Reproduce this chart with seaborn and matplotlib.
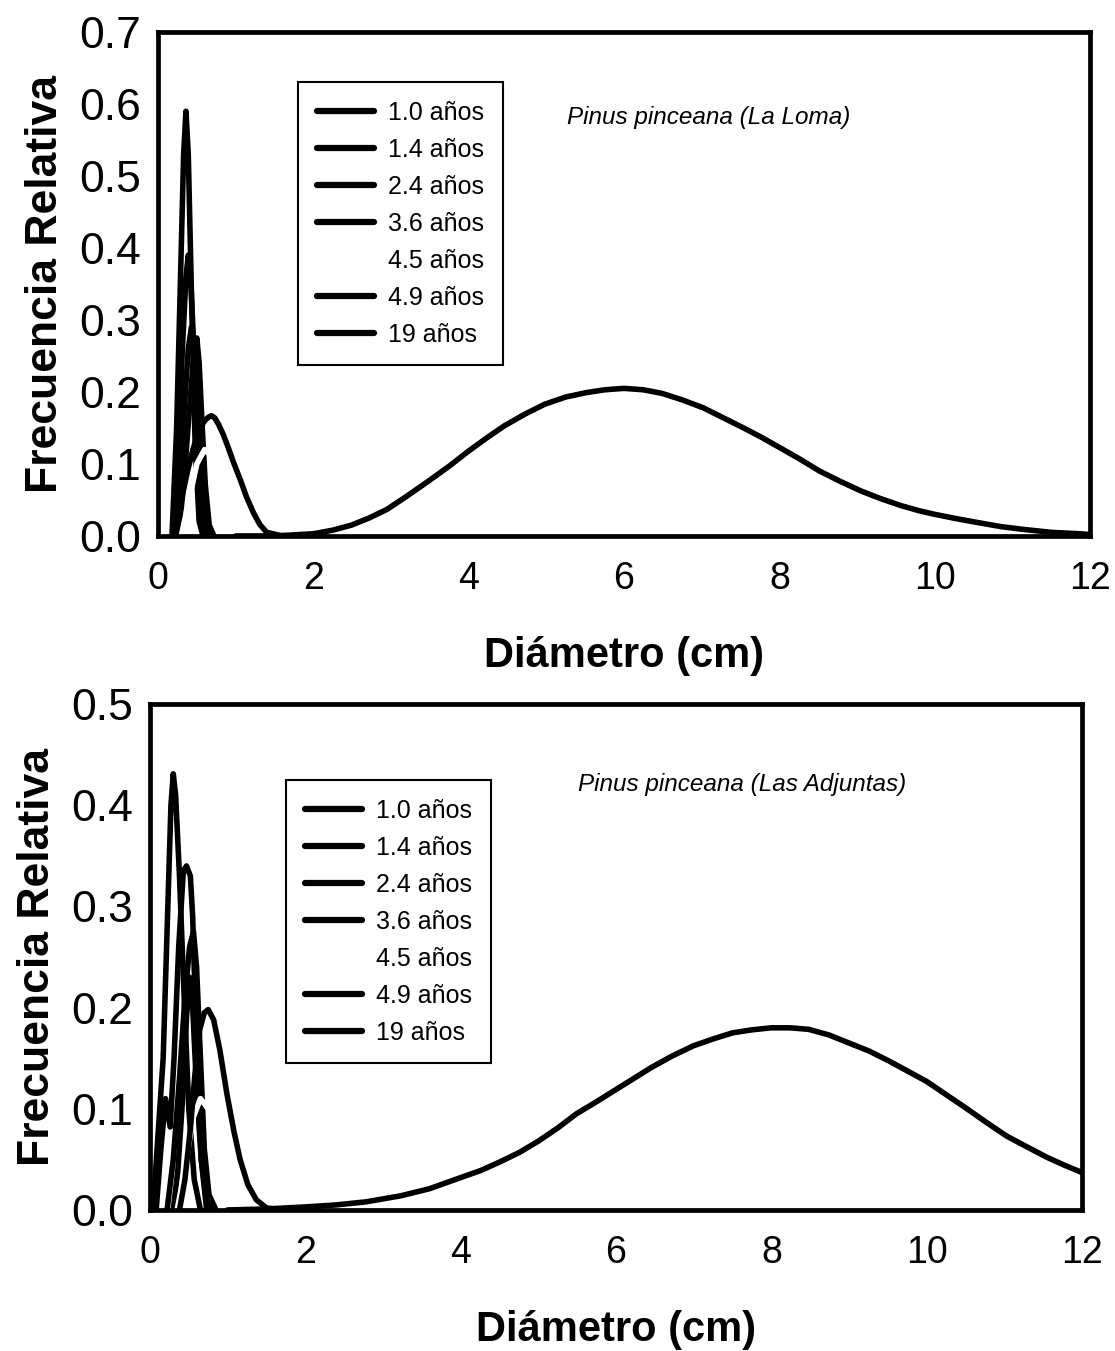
import matplotlib
matplotlib.use("Agg")
import matplotlib.pyplot as plt
import seaborn as sns
import pandas as pd
from matplotlib.lines import Line2D

sns.set_theme(style="white")
plt.rcParams['font.family'] = ['Liberation Sans', 'DejaVu Sans']
plt.rcParams['text.color'] = 'black'
plt.rcParams['axes.labelcolor'] = 'black'
plt.rcParams['xtick.color'] = 'black'
plt.rcParams['ytick.color'] = 'black'

labels = ["1.0 años", "1.4 años", "2.4 años", "3.6 años", "4.5 años", "4.9 años", "19 años"]
line_colors = ["black", "black", "black", "black", "white", "black", "black"]

# ---- Top panel: Pinus pinceana (La Loma) ----
top_x_10 = [0.18, 0.24, 0.29, 0.33, 0.36, 0.39, 0.43, 0.48, 0.53, 0.58]
top_y_10 = [0.0, 0.15, 0.36, 0.53, 0.59, 0.53, 0.34, 0.12, 0.02, 0.0]
top_x_14 = [0.20, 0.26, 0.31, 0.36, 0.39, 0.42, 0.47, 0.52, 0.58, 0.64]
top_y_14 = [0.0, 0.11, 0.25, 0.36, 0.39, 0.36, 0.24, 0.10, 0.02, 0.0]
top_x_24 = [0.22, 0.28, 0.34, 0.39, 0.43, 0.47, 0.52, 0.57, 0.63, 0.70]
top_y_24 = [0.0, 0.08, 0.18, 0.26, 0.29, 0.26, 0.17, 0.08, 0.02, 0.0]
top_x_36 = [0.26, 0.33, 0.40, 0.46, 0.50, 0.53, 0.57, 0.61, 0.66, 0.72]
top_y_36 = [0.0, 0.07, 0.17, 0.25, 0.275, 0.24, 0.15, 0.07, 0.015, 0.0]
top_x_45 = [0.30, 0.40, 0.50, 0.60, 0.70, 0.80, 0.95, 1.10, 1.30]
top_y_45 = [0.0, 0.05, 0.10, 0.12, 0.11, 0.08, 0.04, 0.015, 0.0]
top_x_49 = [0.19, 0.24, 0.30, 0.38, 0.45, 0.52, 0.60, 0.65, 0.69, 0.73, 0.78, 0.84, 0.90, 0.98,
            1.06, 1.14, 1.23, 1.31, 1.40, 1.60]
top_y_49 = [0.0, 0.018, 0.05, 0.09, 0.12, 0.145, 0.16, 0.165, 0.167, 0.164, 0.155, 0.141, 0.124,
            0.10, 0.078, 0.054, 0.032, 0.016, 0.005, 0.0]
top_x_19 = [1.0, 1.5, 2.0, 2.25, 2.49, 2.72, 2.95, 3.2, 3.48, 3.75, 4.0, 4.23, 4.46, 4.72, 4.98,
            5.25, 5.51, 5.75, 6.0, 6.25, 6.49, 6.75, 7.02, 7.28, 7.54, 7.77, 8.0, 8.26, 8.52,
            8.78, 9.05, 9.3, 9.57, 9.8, 10.0, 10.28, 10.56, 10.85, 11.15, 11.5, 11.87, 12.0]
top_y_19 = [0.0, 0.0, 0.003, 0.008, 0.015, 0.025, 0.037, 0.055, 0.076, 0.097, 0.118, 0.136,
            0.153, 0.169, 0.183, 0.193, 0.199, 0.203, 0.205, 0.203, 0.198, 0.189, 0.178, 0.164,
            0.150, 0.137, 0.123, 0.107, 0.090, 0.076, 0.0625, 0.052, 0.042, 0.035, 0.030,
            0.024, 0.0185, 0.013, 0.009, 0.005, 0.003, 0.002]

# ---- Bottom panel: Pinus pinceana (Las Adjuntas) ----
bot_x_10 = [0.04, 0.10, 0.17, 0.23, 0.27, 0.30, 0.33, 0.38, 0.44, 0.50, 0.57, 0.65]
bot_y_10 = [0.0, 0.07, 0.15, 0.30, 0.40, 0.431, 0.41, 0.33, 0.21, 0.10, 0.03, 0.0]
bot_x_14 = [0.08, 0.14, 0.20, 0.26, 0.31, 0.37, 0.43, 0.47, 0.52, 0.55, 0.60, 0.66, 0.73]
bot_y_14 = [0.0, 0.06, 0.11, 0.082, 0.15, 0.26, 0.335, 0.34, 0.33, 0.29, 0.16, 0.05, 0.0]
bot_x_24 = [0.22, 0.30, 0.38, 0.45, 0.51, 0.56, 0.60, 0.65, 0.70, 0.76, 0.85]
bot_y_24 = [0.0, 0.05, 0.13, 0.21, 0.26, 0.275, 0.24, 0.15, 0.06, 0.015, 0.0]
bot_x_36 = [0.30, 0.36, 0.42, 0.47, 0.51, 0.55, 0.60, 0.66, 0.73, 0.80]
bot_y_36 = [0.0, 0.04, 0.11, 0.19, 0.23, 0.20, 0.12, 0.05, 0.01, 0.0]
bot_x_45 = [0.35, 0.45, 0.55, 0.65, 0.75, 0.85, 1.00, 1.15, 1.35]
bot_y_45 = [0.0, 0.04, 0.09, 0.11, 0.10, 0.07, 0.035, 0.012, 0.0]
bot_x_49 = [0.38, 0.45, 0.52, 0.58, 0.64, 0.70, 0.75, 0.82, 0.90, 0.99, 1.08, 1.16, 1.26, 1.37, 1.50, 1.70]
bot_y_49 = [0.0, 0.03, 0.08, 0.135, 0.178, 0.195, 0.198, 0.188, 0.158, 0.115, 0.078, 0.05, 0.025, 0.01, 0.002, 0.0]
bot_x_19 = [1.0, 1.5, 2.0, 2.4, 2.78, 3.23, 3.6, 4.0, 4.26, 4.52, 4.76, 5.0, 5.25, 5.49, 5.75, 6.0,
            6.23, 6.46, 6.72, 6.99, 7.25, 7.5, 7.75, 8.0, 8.24, 8.48, 8.74, 9.0, 9.26, 9.52,
            9.76, 10.0, 10.25, 10.5, 10.76, 11.03, 11.3, 11.55, 11.78, 12.0]
bot_y_19 = [0.0, 0.001, 0.003, 0.005, 0.008, 0.014, 0.021, 0.032, 0.039, 0.048, 0.057, 0.068,
            0.081, 0.095, 0.107, 0.119, 0.130, 0.141, 0.152, 0.162, 0.169, 0.175, 0.178, 0.180,
            0.180, 0.1785, 0.173, 0.165, 0.157, 0.147, 0.137, 0.127, 0.114, 0.101, 0.087, 0.073,
            0.062, 0.052, 0.044, 0.037]

top_series = [(top_x_10, top_y_10), (top_x_14, top_y_14), (top_x_24, top_y_24), (top_x_36, top_y_36),
              (top_x_45, top_y_45), (top_x_49, top_y_49), (top_x_19, top_y_19)]
bot_series = [(bot_x_10, bot_y_10), (bot_x_14, bot_y_14), (bot_x_24, bot_y_24), (bot_x_36, bot_y_36),
              (bot_x_45, bot_y_45), (bot_x_49, bot_y_49), (bot_x_19, bot_y_19)]

top_yticks = [0.0, 0.1, 0.2, 0.3, 0.4, 0.5, 0.6, 0.7]
bot_yticks = [0.0, 0.1, 0.2, 0.3, 0.4, 0.5]
xticks = [0, 2, 4, 6, 8, 10, 12]

fig = plt.figure(figsize=(11.15, 13.51), dpi=100)
ax1 = fig.add_axes([0.1417, 0.6033, 0.8359, 0.3730])
ax2 = fig.add_axes([0.1345, 0.1044, 0.8359, 0.3745])


def draw(ax, series, yticks, title, tpos, lpos):
    for (xs, ys), lab, col in zip(series, labels, line_colors):
        df = pd.DataFrame({"x": xs, "y": ys})
        sns.lineplot(data=df, x="x", y="y", ax=ax, color=col, lw=4.0, sort=False,
                     estimator=None, legend=False, solid_capstyle="round", solid_joinstyle="round")
    ax.set_xlim(0, 12)
    ax.set_ylim(0, yticks[-1])
    ax.set_xticks(xticks)
    ax.set_xticklabels([str(v) for v in xticks])
    ax.set_yticks(yticks)
    ax.set_yticklabels([f"{v:.1f}" for v in yticks])
    for s in ax.spines.values():
        s.set_linewidth(3.4)
        s.set_color("black")
        s.set_visible(True)
    ax.tick_params(axis="both", direction="out", length=6, width=1.5, color="black")
    ax.tick_params(axis="x", labelsize=27, pad=12)
    ax.tick_params(axis="y", labelsize=32, pad=6)
    ax.set_xlabel("Diámetro (cm)", fontsize=30, fontweight="bold", labelpad=28)
    ax.set_ylabel("Frecuencia Relativa", fontsize=32, fontweight="bold", labelpad=10)
    ax.text(tpos[0], tpos[1], title, transform=ax.transAxes, fontsize=17.5, style="italic",
            ha="left", va="center")
    handles = [Line2D([0], [0], color=c, lw=4.5) for c in line_colors]
    leg = ax.legend(handles, labels, loc="upper left", bbox_to_anchor=lpos, fontsize=18,
                    frameon=True, fancybox=False, edgecolor="black", framealpha=1,
                    handlelength=2.3, labelspacing=0.52, borderpad=0.75, handletextpad=0.55,
                    borderaxespad=0)
    leg.get_frame().set_linewidth(1.5)


draw(ax1, top_series, top_yticks, "Pinus pinceana (La Loma)", (0.439, 0.831), (0.150, 0.901))
draw(ax2, bot_series, bot_yticks, "Pinus pinceana (Las Adjuntas)", (0.459, 0.840), (0.146, 0.850))

fig.savefig("out.png", dpi=100)
